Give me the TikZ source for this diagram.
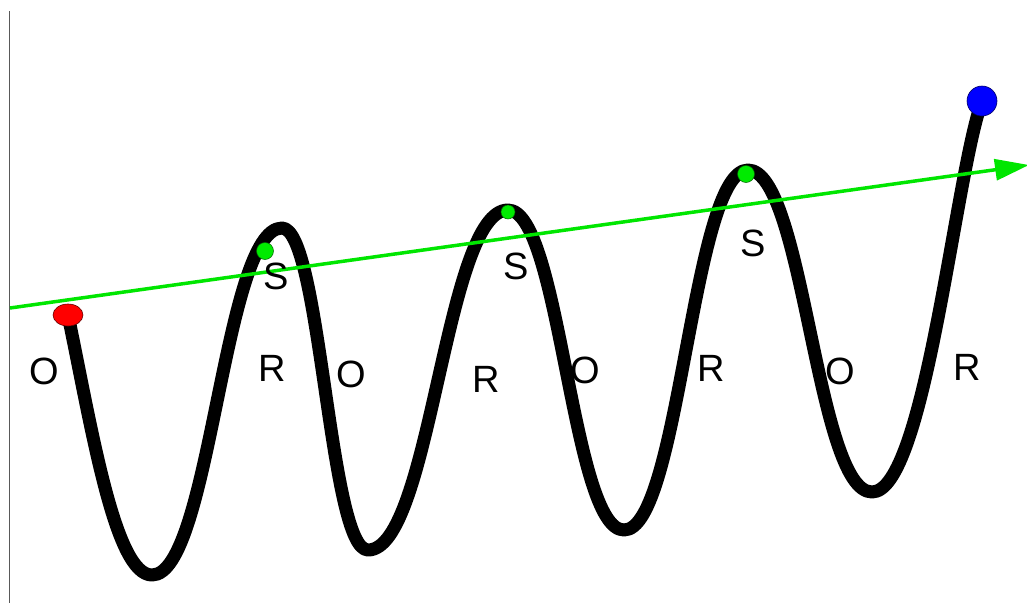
\documentclass[tikz,border=0pt]{standalone}
\usepackage{fontspec}
\setmainfont{Liberation Sans}
\usetikzlibrary{arrows.meta,shapes.geometric}
\begin{document}
\begin{tikzpicture}[x=1pt,y=-1pt,
  wave/.style={line width=13pt,black,line cap=butt,line join=round},
  axisline/.style={draw=black!65,line width=1.6pt},
  trend/.style={draw={rgb,255:red,0;green,230;blue,0},line width=3.5pt,
    -{Triangle[length=34pt,width=21pt]}},
  greendot/.style={circle,fill={rgb,255:red,0;green,235;blue,0},draw=black!60!green,line width=0.5pt,inner sep=0pt},
  lbl/.style={font=\fontsize{38}{40}\selectfont,inner sep=0pt,text=black}
]
\useasboundingbox (0,0) rectangle (1027,603);
\draw[axisline] (9.5,11) -- (9.5,603);
% wave
\draw[wave] (68,315) .. controls (92,430) and (115,575) .. (152,575)
  .. controls (210.5,575) and (223.5,228) .. (282,228)
  .. controls (320.7,228) and (329.3,550) .. (368,550)
  .. controls (431,550) and (445,210) .. (508,210)
  .. controls (560.2,210) and (571.8,530) .. (624,530)
  .. controls (679.8,530) and (692.2,170) .. (748,170)
  .. controls (803.8,170) and (816.2,492) .. (872,492)
  .. controls (925,492) and (955,175) .. (982,101);
% trend arrow
\coordinate (tstart) at (10,308);
\coordinate (tend) at (1029,165);
\draw[trend] (tstart) -- (tend);
% dots
\node[ellipse,minimum width=30pt,minimum height=22pt,fill=red,draw=black!60!red,line width=0.6pt,inner sep=0pt] (rdot) at (68,315) {};
\node[circle,minimum size=30pt,fill=blue,draw=black!60!blue,line width=0.6pt,inner sep=0pt] (bdot) at (982,101) {};
\node[greendot,minimum size=17pt] (g1) at (265,251) {};
\node[greendot,minimum size=14pt] (g2) at (508,212) {};
\node[greendot,minimum size=17pt] (g3) at (746,174) {};
% labels
\node[lbl] (o1) at (44.5,371) {O};
\node[lbl] (r1) at (272.5,368) {R};
\node[lbl] (o2) at (351,374) {O};
\node[lbl] (r2) at (486,379) {R};
\node[lbl] (o3) at (585,370) {O};
\node[lbl] (r3) at (711,368) {R};
\node[lbl] (o4) at (840,371) {O};
\node[lbl] (r4) at (967,367) {R};
\node[lbl] (s1) at (276,276) {S};
\node[lbl] (s2) at (516,266) {S};
\node[lbl] (s3) at (753,243) {S};
\end{tikzpicture}
\end{document}
